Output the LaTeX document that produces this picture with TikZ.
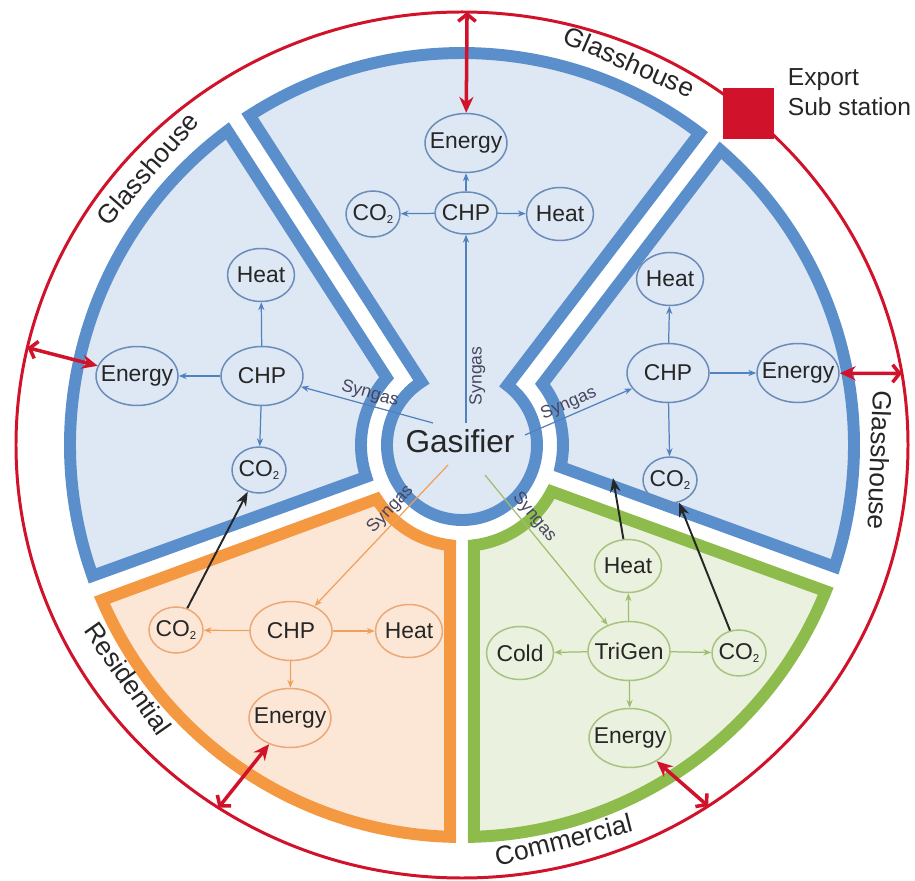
\documentclass[tikz,border=0pt]{standalone}
\usepackage{fontspec}
\setmainfont{Liberation Sans}
\usetikzlibrary{shapes.geometric,arrows.meta}

\definecolor{bandB}{RGB}{91,143,204}
\definecolor{fillB}{RGB}{222,231,244}
\definecolor{bandO}{RGB}{244,152,66}
\definecolor{fillO}{RGB}{252,231,214}
\definecolor{bandG}{RGB}{141,188,77}
\definecolor{fillG}{RGB}{234,241,222}
\definecolor{nodeB}{RGB}{105,140,185}
\definecolor{nodeO}{RGB}{236,168,118}
\definecolor{nodeG}{RGB}{168,194,128}
\definecolor{lineB}{RGB}{80,130,190}
\definecolor{lineO}{RGB}{240,160,90}
\definecolor{lineG}{RGB}{158,190,108}
\definecolor{redc}{RGB}{208,18,42}
\definecolor{txt}{RGB}{38,38,38}
\definecolor{syntxt}{RGB}{70,70,95}

\newcommand\cotwo{CO\raisebox{-2pt}{\fontsize{6.5}{7}\selectfont 2}}

\tikzset{
  band/.style={line width=6.8pt, draw=#1},
  nd/.style={ellipse, draw, line width=0.85pt, inner xsep=-8pt, inner ysep=0pt,
    font=\fontsize{13}{15}\selectfont, text=txt},
  nb/.style={nd, draw=nodeB},
  no/.style={nd, draw=nodeO},
  ng/.style={nd, draw=nodeG},
  big/.style={minimum width=1.64cm, minimum height=1.18cm},
  mid/.style={minimum width=1.34cm, minimum height=1.06cm},
  sml/.style={minimum width=1.08cm, minimum height=0.92cm},
  bl/.style={draw=lineB, line width=0.7pt, -{Stealth[length=4.5pt,width=3.5pt]}},
  ol/.style={draw=lineO, line width=0.7pt, -{Stealth[length=4.5pt,width=3.5pt]}},
  gl/.style={draw=lineG, line width=0.7pt, -{Stealth[length=4.5pt,width=3.5pt]}},
  syn/.style={font=\fontsize{10}{12}\selectfont, text=syntxt, inner sep=1.5pt},
  blk/.style={draw=black!85, line width=1.1pt, -{Stealth[length=8pt,width=6pt]}},
  rarr/.style={draw=redc, line width=2pt,
    {Straight Barb[length=4pt,width=10pt]}-{Stealth[length=9pt,width=8pt]}},
  lbl/.style={font=\fontsize{15}{18}\selectfont, text=txt, inner sep=0pt, anchor=base}
}

\begin{document}
\begin{tikzpicture}[x=0.02cm,y=0.02cm]
\useasboundingbox (-462,-436) rectangle (453,445);
%Top glasshouse with gasifier
\filldraw[band=bandB, fill=fillB] (52.7:392) arc[start angle=52.7, end angle=122.8, radius=392]
  -- (122.8:75) arc[start angle=122.8, end angle=412.7, radius=75] -- cycle;
%Left glasshouse
\filldraw[band=bandB, fill=fillB] (126.75:392) arc[start angle=126.75, end angle=199.5, radius=392]
  -- (198.4:101) arc[start angle=198.4, end angle=138.3, radius=101] -- cycle;
%Residential
\filldraw[band=bandO, fill=fillO] (203.3:392) arc[start angle=203.3, end angle=268.25, radius=392]
  -- (263.2:101) arc[start angle=263.2, end angle=212.3, radius=101] -- cycle;
%Commercial
\filldraw[band=bandG, fill=fillG] (271.75:392) arc[start angle=271.75, end angle=338.1, radius=392]
  -- (332.6:101) arc[start angle=332.6, end angle=276.8, radius=101] -- cycle;
%Right glasshouse
\filldraw[band=bandB, fill=fillB] (341.9:392) arc[start angle=341.9, end angle=408.75, radius=392]
  -- (397.2:101) arc[start angle=397.2, end angle=347.4, radius=101] -- cycle;

%Grid ring
\draw[redc, line width=1.7pt] (0,0) ellipse [x radius=446, y radius=433];
\coordinate (cTop) at (89.35:446 and 433);
\coordinate (cLeft) at (167:446 and 433);
\coordinate (cRight) at (9.5:446 and 433);
\coordinate (cRes) at (236.9:446 and 433);
\coordinate (cCom) at (303.5:446 and 433);

%Sector names
\node[lbl, rotate=48.7] (nLeft) at (138.7:409) {Glasshouse};
\node[lbl, rotate=-23.6] (nTop) at (66.4:409) {Glasshouse};
\node[lbl, rotate=-92.1] (nRight) at (-2.1:409) {Glasshouse};
\node[lbl, rotate=14.4] (nCom) at (284.4:417) {Commercial};
\node[lbl, rotate=-55] (nRes) at (215:417) {Residential};

%Export sub station
\node[fill=redc, minimum size=1.02cm, inner sep=0pt] (sub) at (50:446 and 433) {};
\node[anchor=west, align=left, font=\fontsize{14}{17}\selectfont, text=txt, inner sep=0pt]
  (subl) at ([shift={(13,21)}]sub.east) {Export\\Sub station};

%Gasifier
\node[font=\fontsize{18}{20}\selectfont, text=txt, inner sep=2pt] (gas) at (-2,4) {Gasifier};

%Top glasshouse
\node[nb, big] (tene) at (4,302) {Energy};
\node[nb, minimum width=1.24cm, minimum height=0.84cm] (tchp) at (4,232) {CHP};
\node[nb, sml] (tco) at (-89,231) {\cotwo};
\node[nb, mid] (theat) at (98,231) {Heat};
\draw[bl] (tchp) -- (tene);
\draw[bl] (tchp) -- (tco);
\draw[bl] (tchp) -- (theat);
\draw[bl] ([shift={(6,18)}]gas.center) -- node[syn, rotate=90, anchor=north, pos=0.25] {Syngas} (tchp);

%Left glasshouse
\node[nb, mid] (lheat) at (-201,170) {Heat};
\node[nb, big] (lchp) at (-200,69) {CHP};
\node[nb, big] (lene) at (-325,69) {Energy};
\node[nb, sml] (lco) at (-203,-25) {\cotwo};
\draw[bl] (lchp) -- (lene);
\draw[bl] (lchp) -- (lheat);
\draw[bl] (lchp) -- (lco);
\draw[bl] ([shift={(-27,18)}]gas.center) -- node[syn, sloped, above, pos=0.5] {Syngas} (lchp);

%Right glasshouse
\node[nb, mid] (rheat) at (208,166) {Heat};
\node[nb, big] (rchp) at (206,72) {CHP};
\node[nb, big] (rene) at (336,72) {Energy};
\node[nb, sml] (rco) at (208,-35) {\cotwo};
\draw[bl] (rchp) -- (rheat);
\draw[bl] (rchp) -- (rene);
\draw[bl] (rchp) -- (rco);
\draw[bl] ([shift={(65,6)}]gas.center) -- node[syn, sloped, above, pos=0.45] {Syngas} (rchp);

%Residential
\node[no, sml] (oco) at (-286,-185) {\cotwo};
\node[no, big] (ochp) at (-171,-186) {CHP};
\node[no, mid] (oheat) at (-53,-186) {Heat};
\node[no, big] (oene) at (-172,-273) {Energy};
\draw[ol] (ochp) -- (oco);
\draw[ol] (ochp) -- (oheat);
\draw[ol] (ochp) -- (oene);
\draw[ol] ([shift={(-12,-24)}]gas.center) -- node[syn, sloped, above, pos=0.37] {Syngas} (ochp);

%Commercial
\node[ng, mid] (gheat) at (166,-121) {Heat};
\node[ng, big] (gtri) at (167,-206) {TriGen};
\node[ng, mid] (gcold) at (58,-208) {Cold};
\node[ng, sml] (gco) at (277,-208) {\cotwo};
\node[ng, big] (gene) at (168,-293) {Energy};
\draw[gl] (gtri) -- (gheat);
\draw[gl] (gtri) -- (gcold);
\draw[gl] (gtri) -- (gco);
\draw[gl] (gtri) -- (gene);
\draw[gl] ([shift={(25,-34)}]gas.center) -- node[syn, sloped, above, pos=0.33] {Syngas} (gtri);

%CO2 and heat exchange
\coordinate (hEnd) at (151,-33);
\draw[blk] (oco) -- (lco);
\draw[blk] (gheat) -- (hEnd);
\draw[blk] (gco) -- (rco);

%Power to grid
\draw[rarr] (cTop) -- (tene);
\draw[rarr] (cLeft) -- (lene);
\draw[rarr] (cRight) -- (rene);
\draw[rarr] (cRes) -- (oene);
\draw[rarr] (cCom) -- (gene);
\end{tikzpicture}
\end{document}
